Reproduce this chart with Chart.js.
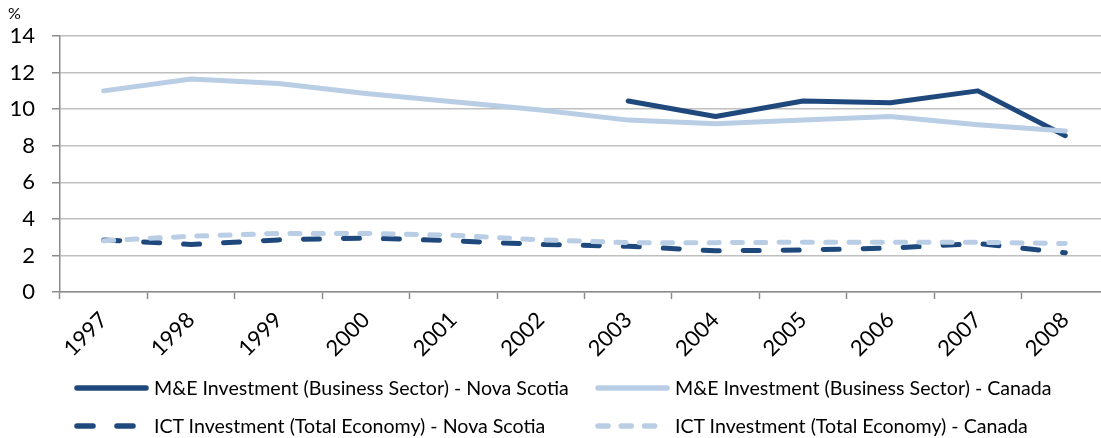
<!DOCTYPE html>
<html>
<head>
<meta charset="utf-8">
<script src="https://cdn.jsdelivr.net/npm/chart.js@4/dist/chart.umd.min.js"></script>
<style>
  body { margin: 0; overflow: hidden; background: #fff; font-family: Lato, "Open Sans", sans-serif; }
  #wrap { position: relative; width: 1109px; height: 438px; }
  #pct { position: absolute; left: 8px; top: 3px; font-size: 16px; color: #000; }
  .lg { position: absolute; font-size: 19.6px; color: #000; white-space: nowrap; line-height: 22px; }
  .lg svg { position: absolute; left: -80px; top: 4px; }
</style>
</head>
<body>
<div id="wrap">
  <canvas id="c"></canvas>
  <div id="pct">%</div>
  <div id="legend"></div>
</div>
<script>
const years = ['1997','1998','1999','2000','2001','2002','2003','2004','2005','2006','2007','2008'];
const meNovaScotia = [null, null, null, null, null, null, 10.45, 9.6, 10.45, 10.35, 11.0, 8.55];
const meCanada = [11.0, 11.65, 11.4, 10.85, 10.4, 9.95, 9.4, 9.2, 9.4, 9.6, 9.15, 8.8];
const ictNovaScotia = [2.85, 2.6, 2.85, 2.95, 2.8, 2.6, 2.5, 2.25, 2.3, 2.4, 2.65, 2.15];
const ictCanada = [2.8, 3.05, 3.2, 3.2, 3.1, 2.85, 2.7, 2.7, 2.72, 2.72, 2.72, 2.65];
const yTicks = [0, 2, 4, 6, 8, 10, 12, 14];

const dark = '#1f497d';
const light = '#b9cde5';

const series = [
  { label: 'M&E Investment (Business Sector) - Nova Scotia', data: meNovaScotia, color: dark, dash: [], order: 4 },
  { label: 'M&E Investment (Business Sector) - Canada', data: meCanada, color: light, dash: [], order: 3 },
  { label: 'ICT Investment (Total Economy) - Nova Scotia', data: ictNovaScotia, color: dark, dash: [16, 24], order: 2 },
  { label: 'ICT Investment (Total Economy) - Canada', data: ictCanada, color: light, dash: [10, 13.3], order: 1 }
];

new Chart(document.getElementById('c'), {
  type: 'line',
  data: {
    labels: years,
    datasets: series.map(s => ({
      label: s.label,
      data: s.data,
      borderColor: s.color,
      backgroundColor: s.color,
      borderWidth: 5,
      borderDash: s.dash,
      borderCapStyle: 'round',
      borderJoinStyle: 'round',
      pointRadius: 0,
      tension: 0,
      order: s.order
    }))
  },
  options: {
    responsive: true,
    maintainAspectRatio: false,
    animation: false,
    layout: { padding: { top: 36, left: 0, right: 0, bottom: 0 } },
    scales: {
      x: {
        offset: true,
        grid: { offset: true, drawOnChartArea: false, tickLength: 7, tickColor: '#8c8c8c', tickWidth: 1.5 },
        border: { color: '#8c8c8c', width: 1.5 },
        ticks: { color: '#000', font: { family: 'Lato', size: 22 }, minRotation: 45, maxRotation: 45, autoSkip: false, padding: 8 },
        afterFit: s => { s.height = 146; }
      },
      y: {
        min: 0,
        max: 14,
        afterBuildTicks: s => { s.ticks = yTicks.map(v => ({ value: v })); },
        grid: { color: '#c0c0c0', lineWidth: 1.5, tickLength: 8, tickColor: '#8c8c8c', tickWidth: 1.5 },
        border: { color: '#8c8c8c', width: 1.5 },
        ticks: { color: '#000', font: { family: 'Lato', size: 22 }, padding: 17 },
        afterFit: s => { s.width = 60; }
      }
    },
    plugins: { legend: { display: false }, tooltip: { enabled: false } }
  }
});

// legend, two columns like the original
const legendPos = [[154, 377], [675, 377], [154, 415], [675, 415]];
const lg = document.getElementById('legend');
series.forEach((s, i) => {
  const d = document.createElement('div');
  d.className = 'lg';
  d.style.left = legendPos[i][0] + 'px';
  d.style.top = legendPos[i][1] + 'px';
  const dash = s.dash.length ? 'stroke-dasharray="' + s.dash.join(' ') + '"' : '';
  d.innerHTML = '<svg width="76" height="14"><line x1="3" y1="7" x2="72" y2="7" stroke="' + s.color +
    '" stroke-width="5.5" stroke-linecap="round" ' + dash + '/></svg>';
  d.appendChild(document.createTextNode(s.label));
  lg.appendChild(d);
});
</script>
</body>
</html>
